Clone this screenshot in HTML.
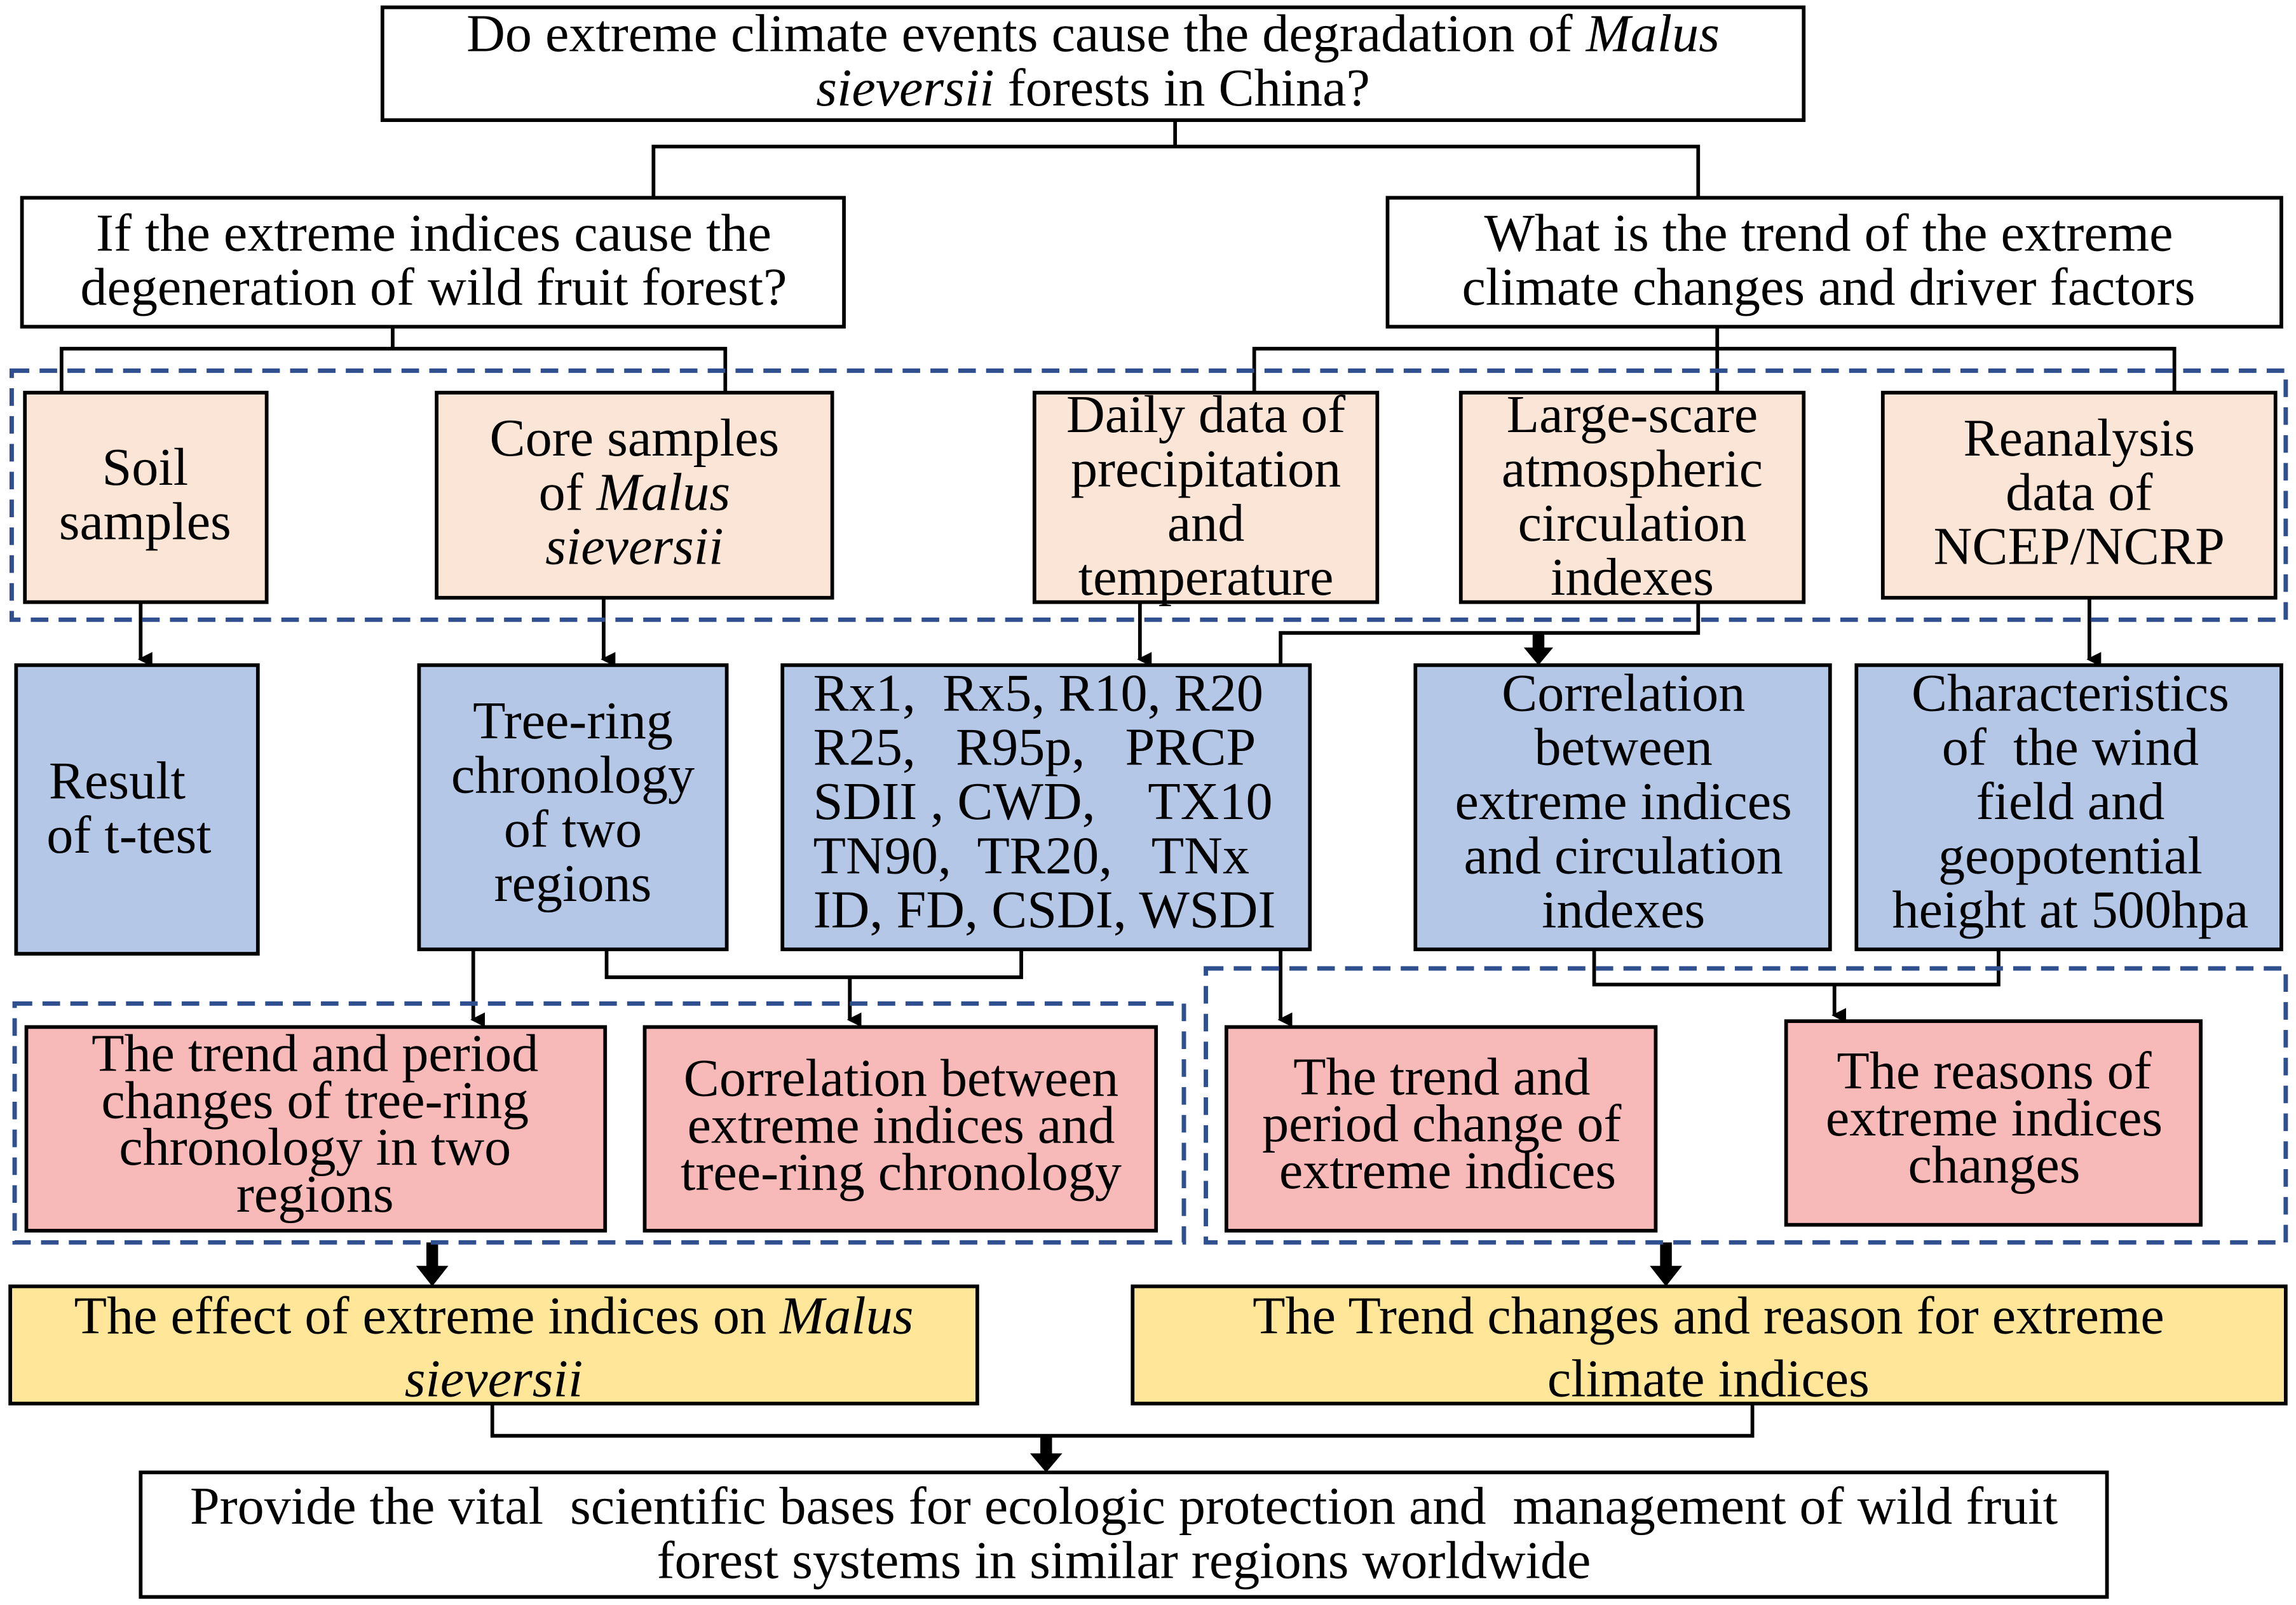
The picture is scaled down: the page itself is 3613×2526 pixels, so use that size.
<!DOCTYPE html>
<html><head><meta charset="utf-8"><style>
html,body{margin:0;padding:0;background:#fff;}
svg{display:block;}
text{font-family:"Liberation Serif",serif;font-size:36.5px;fill:#000;text-anchor:middle;white-space:pre;}
</style></head><body>
<svg width="3613" height="2526" viewBox="0 0 1567 1095.5" preserveAspectRatio="none" xmlns="http://www.w3.org/2000/svg" xml:space="preserve">
<defs>
<marker id="a" markerWidth="10" markerHeight="10" refX="5" refY="8" orient="auto" markerUnits="userSpaceOnUse"><path d="M0,0 L10,0 L5,10 z" fill="#000"/></marker>
</defs>
<g stroke="#000" stroke-width="2.5" fill="none">
<path d="M802,82 V100 M446,135 V100 H1159 V135"/>
<path d="M268,223 V238 M42,268 V238 H495 V268"/>
<path d="M1172,223 V268 M856,268 V238 H1484 V268"/>
<path d="M96,411 V450" marker-end="url(#a)"/>
<path d="M412,408 V450" marker-end="url(#a)"/>
<path d="M778,411 V450" marker-end="url(#a)"/>
<path d="M1426,408 V450" marker-end="url(#a)"/>
<path d="M1159,411 V432 H874 V696" marker-end="url(#a)"/>
<path d="M323,648 V696" marker-end="url(#a)"/>
<path d="M414,648 V667 H697 V648 M580,667 V696" />
<path d="M580,667 V696" marker-end="url(#a)"/>
<path d="M1088,648 V672 H1364 V648 M1252,672 V693" marker-end="url(#a)"/>
<path d="M336,958 V980 H1196 V958"/>
</g>
<g fill="#000">
<path d="M1046,432 h8 v10 h6 l-10,12 l-10,-12 h6z"/>
<path d="M291,848 h8 v16 h7 l-11,14 l-11,-14 h7z"/>
<path d="M1133,848 h8 v16 h7 l-11,14 l-11,-14 h7z"/>
<path d="M710,980 h8 v12 h7 l-11,13 l-11,-13 h7z"/>
</g>
<g fill="none" stroke="#2F4F8F" stroke-width="3" stroke-dasharray="12,7">
<rect x="8" y="253" width="1552" height="170"/>
<rect x="10" y="685" width="798" height="163"/>
<rect x="823" y="661" width="737" height="187"/>
</g>
<g stroke="#000" stroke-width="2.5">
<rect x="261" y="5" width="970" height="77" fill="#fff"/>
<rect x="15" y="135" width="561" height="88" fill="#fff"/>
<rect x="947" y="135" width="610" height="88" fill="#fff"/>
<g fill="#FBE5D6">
<rect x="17" y="268" width="165" height="143"/>
<rect x="298" y="268" width="270" height="140"/>
<rect x="706" y="268" width="234" height="143"/>
<rect x="997" y="268" width="234" height="143"/>
<rect x="1285" y="268" width="268" height="140"/>
</g>
<g fill="#B4C7E7">
<rect x="11" y="454" width="165" height="197"/>
<rect x="286" y="454" width="210" height="194"/>
<rect x="534" y="454" width="360" height="194"/>
<rect x="966" y="454" width="283" height="194"/>
<rect x="1267" y="454" width="290" height="194"/>
</g>
<g fill="#F8B9B9">
<rect x="18" y="701" width="395" height="139"/>
<rect x="440" y="701" width="349" height="139"/>
<rect x="837" y="701" width="293" height="139"/>
<rect x="1219" y="697" width="283" height="139"/>
</g>
<g fill="#FFE699">
<rect x="7" y="878" width="660" height="80"/>
<rect x="773" y="878" width="787" height="80"/>
</g>
<rect x="96" y="1005" width="1342" height="85" fill="#fff"/>
</g>
<text x="746" y="35">Do extreme climate events cause the degradation of <tspan font-style="italic">Malus</tspan></text>
<text x="746" y="72"><tspan font-style="italic">sieversii</tspan> forests in China?</text>
<text x="296" y="171">If the extreme indices cause the</text>
<text x="296" y="208">degeneration of wild fruit forest?</text>
<text x="1248" y="171">What is the trend of the extreme</text>
<text x="1248" y="208">climate changes and driver factors</text>
<text x="99" y="331">Soil</text><text x="99" y="368">samples</text>
<text x="433" y="311">Core samples</text><text x="433" y="348">of <tspan font-style="italic">Malus</tspan></text><text x="433" y="385" font-style="italic">sieversii</text>
<text x="823" y="295">Daily data of</text><text x="823" y="332">precipitation</text><text x="823" y="369">and</text><text x="823" y="406">temperature</text>
<text x="1114" y="295">Large-scare</text><text x="1114" y="332">atmospheric</text><text x="1114" y="369">circulation</text><text x="1114" y="406">indexes</text>
<text x="1419" y="311">Reanalysis</text><text x="1419" y="348">data of</text><text x="1419" y="385">NCEP/NCRP</text>
<text x="80" y="545">Result</text><text x="88" y="582">of t-test</text>
<text x="391" y="504">Tree-ring</text><text x="391" y="541">chronology</text><text x="391" y="578">of two</text><text x="391" y="615">regions</text>
<text x="555" y="485" style="text-anchor:start">Rx1,  Rx5, R10, R20</text>
<text x="555" y="522" style="text-anchor:start">R25,   R95p,   PRCP</text>
<text x="555" y="559" style="text-anchor:start">SDII , CWD,    TX10</text>
<text x="555" y="596" style="text-anchor:start">TN90,  TR20,   TNx</text>
<text x="555" y="633" style="text-anchor:start">ID, FD, CSDI, WSDI</text>
<text x="1108" y="485">Correlation</text><text x="1108" y="522">between</text><text x="1108" y="559">extreme indices</text><text x="1108" y="596">and circulation</text><text x="1108" y="633">indexes</text>
<text x="1413" y="485">Characteristics</text><text x="1413" y="522">of  the wind</text><text x="1413" y="559">field and</text><text x="1413" y="596">geopotential</text><text x="1413" y="633">height at 500hpa</text>
<text x="215" y="731">The trend and period</text><text x="215" y="763">changes of tree-ring</text><text x="215" y="795">chronology in two</text><text x="215" y="827">regions</text>
<text x="615" y="748">Correlation between</text><text x="615" y="780">extreme indices and</text><text x="615" y="812">tree-ring chronology</text>
<text x="984" y="747">The trend and</text><text x="984" y="779">period change of</text><text x="988" y="811">extreme indices</text>
<text x="1361" y="743">The reasons of</text><text x="1361" y="775">extreme indices</text><text x="1361" y="807">changes</text>
<text x="337" y="910">The effect of extreme indices on <tspan font-style="italic">Malus</tspan></text>
<text x="337" y="953" font-style="italic">sieversii</text>
<text x="1166" y="910">The Trend changes and reason for extreme</text>
<text x="1166" y="953">climate indices</text>
<text x="767" y="1040">Provide the vital  scientific bases for ecologic protection and  management of wild fruit</text>
<text x="767" y="1077">forest systems in similar regions worldwide</text>
</svg>
</body></html>
